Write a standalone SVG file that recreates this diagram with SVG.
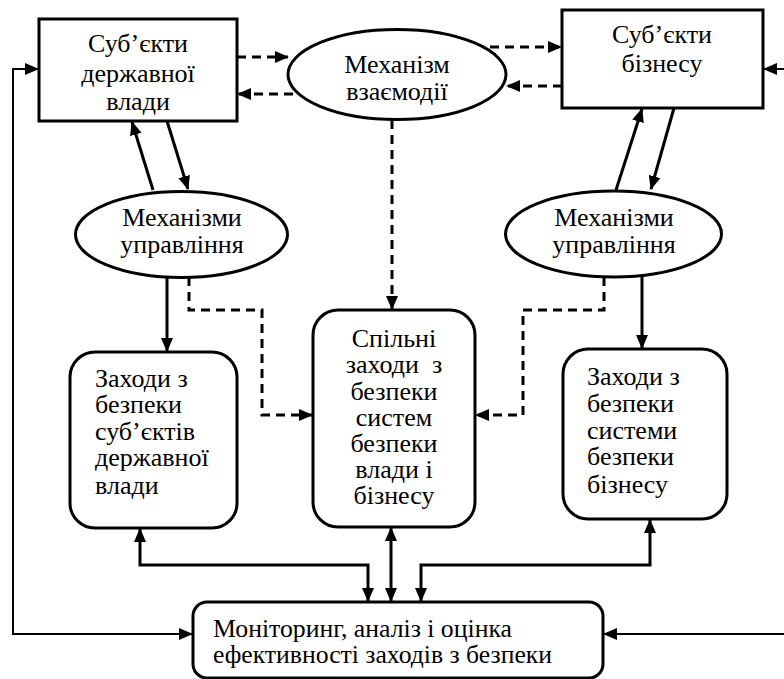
<svg xmlns="http://www.w3.org/2000/svg" width="784" height="679" viewBox="0 0 784 679">
<style>
.n{fill:#fff;stroke:#000;stroke-width:3}
.t{font-family:"Liberation Serif","Times New Roman",serif;font-size:26px;fill:#000}
.c{text-anchor:middle}
.s{fill:none;stroke:#000;stroke-width:3}
.d{fill:none;stroke:#000;stroke-width:3;stroke-dasharray:9 6}
.f{fill:none;stroke:#000;stroke-width:2}
</style>
<defs>
<marker id="a" markerUnits="userSpaceOnUse" markerWidth="14" markerHeight="12" viewBox="0 0 14 12" refX="13" refY="6" orient="auto-start-reverse">
<path d="M0,0 L14,6 L0,12 Z" fill="#000"/>
</marker>
</defs>
<rect width="784" height="679" fill="#fff"/>
<g id="connectors">
<path class="d" d="M237,57 H288" marker-end="url(#a)"/>
<path class="d" d="M293,94 H238" marker-end="url(#a)"/>
<path class="d" d="M490,47 H561" marker-end="url(#a)"/>
<path class="d" d="M562,86 H507" marker-end="url(#a)"/>
<path class="d" d="M392,120 V309" marker-end="url(#a)"/>
<path class="s" d="M153,190 L132,122" marker-end="url(#a)"/>
<path class="s" d="M167,121 L188,189" marker-end="url(#a)"/>
<path class="s" d="M616,190 L642,109" marker-end="url(#a)"/>
<path class="s" d="M674,108 L651,189" marker-end="url(#a)"/>
<path class="s" d="M167,277 V351" marker-end="url(#a)"/>
<path class="s" d="M642,277 V348" marker-end="url(#a)"/>
<path class="d" d="M189,277 V310 H262 V415 H312" marker-end="url(#a)"/>
<path class="d" d="M604,277 V310 H523 V415 H476" marker-end="url(#a)"/>
<path class="s" d="M140,529 V565 H368 V601" marker-start="url(#a)" marker-end="url(#a)"/>
<path class="s" d="M391,528 V601" marker-start="url(#a)" marker-end="url(#a)"/>
<path class="s" d="M421,601 V565 H650 V520" marker-start="url(#a)" marker-end="url(#a)"/>
<path class="f" d="M38,69 H13 V634 H192" marker-start="url(#a)" marker-end="url(#a)"/>
<path class="f" d="M784,69 H764" marker-end="url(#a)"/>
<path class="f" d="M784,634 H604" marker-end="url(#a)"/>
</g>
<g id="gov">
<rect class="n" x="39" y="19" width="198" height="102"/>
<text class="t c" x="138" y="52">Суб’єкти</text>
<text class="t c" x="138" y="82">державної</text>
<text class="t c" x="138" y="110">влади</text>
</g>
<g id="business">
<rect class="n" x="562" y="10" width="201" height="98"/>
<text class="t c" x="662" y="43">Суб’єкти</text>
<text class="t c" x="662" y="72">бізнесу</text>
</g>
<g id="interaction">
<ellipse class="n" cx="397" cy="74.5" rx="109" ry="45"/>
<text class="t c" x="397" y="73">Механізм</text>
<text class="t c" x="397" y="100">взаємодії</text>
</g>
<g id="mgmt-left">
<ellipse class="n" cx="181.5" cy="234.5" rx="106" ry="43"/>
<text class="t c" x="182" y="226">Механізми</text>
<text class="t c" x="182" y="253">управління</text>
</g>
<g id="mgmt-right">
<ellipse class="n" cx="613.5" cy="234" rx="108" ry="43"/>
<text class="t c" x="614" y="226">Механізми</text>
<text class="t c" x="614" y="253">управління</text>
</g>
<g id="measures-gov">
<rect class="n" x="70" y="352" width="167" height="176" rx="25"/>
<text class="t" x="95" y="387">Заходи з</text>
<text class="t" x="95" y="413">безпеки</text>
<text class="t" x="95" y="440">суб’єктів</text>
<text class="t" x="95" y="466">державної</text>
<text class="t" x="95" y="494">влади</text>
</g>
<g id="measures-joint">
<rect class="n" x="313" y="310" width="162" height="217" rx="25"/>
<text class="t c" x="394" y="347">Спільні</text>
<text class="t c" x="394" y="373" style="white-space:pre">заходи  з</text>
<text class="t c" x="394" y="400">безпеки</text>
<text class="t c" x="394" y="426">систем</text>
<text class="t c" x="394" y="452">безпеки</text>
<text class="t c" x="394" y="478">влади і</text>
<text class="t c" x="394" y="504">бізнесу</text>
</g>
<g id="measures-business">
<rect class="n" x="563" y="349" width="164" height="170" rx="25"/>
<text class="t" x="587" y="385">Заходи з</text>
<text class="t" x="587" y="412">безпеки</text>
<text class="t" x="587" y="439">системи</text>
<text class="t" x="587" y="465">безпеки</text>
<text class="t" x="587" y="493">бізнесу</text>
</g>
<g id="monitoring">
<rect class="n" x="193" y="602" width="410" height="76" rx="14"/>
<text class="t" x="213" y="637" textLength="299" lengthAdjust="spacingAndGlyphs">Моніторинг, аналіз і оцінка</text>
<text class="t" x="213" y="663" textLength="339" lengthAdjust="spacingAndGlyphs">ефективності заходів з безпеки</text>
</g>
</svg>
